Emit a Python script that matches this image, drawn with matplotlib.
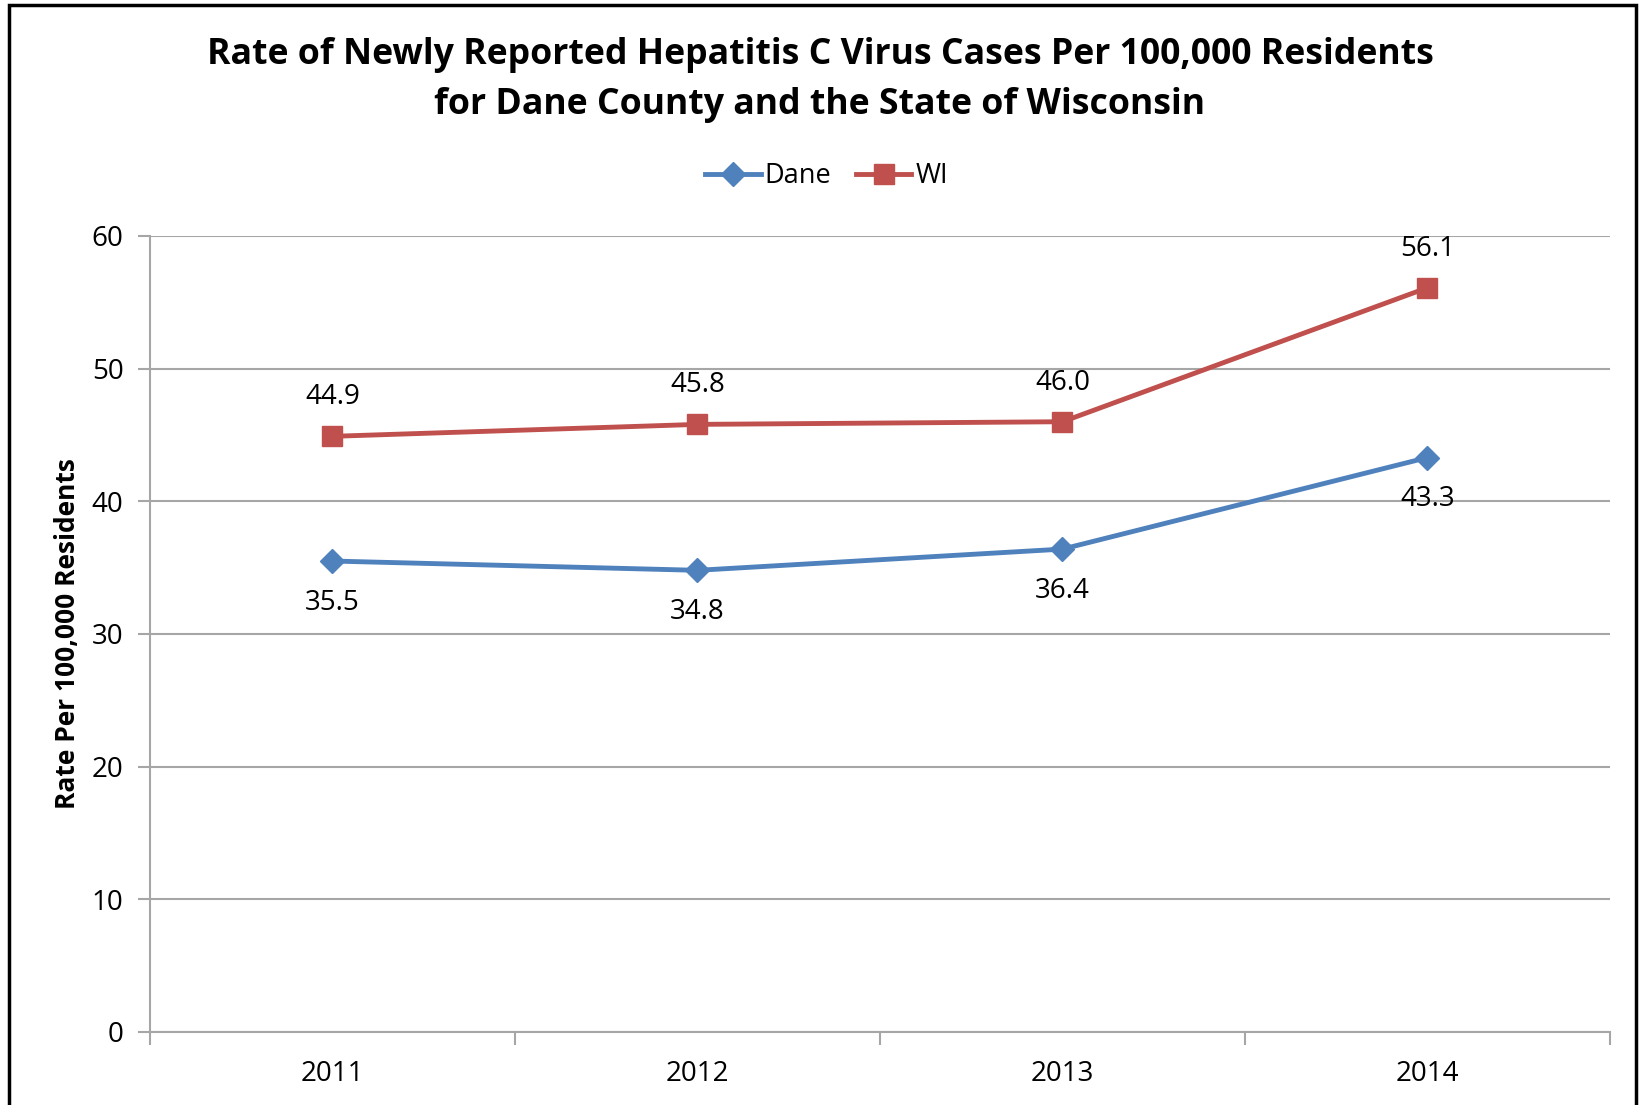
import matplotlib
matplotlib.use("Agg")
import matplotlib.pyplot as plt
import matplotlib.patches as mpatches
import numpy as np

plt.rcParams['font.family'] = ['Open Sans', 'DejaVu Sans']

years = ['2011', '2012', '2013', '2014']
dane = [35.5, 34.8, 36.4, 43.3]
wi = [44.9, 45.8, 46.0, 56.1]
yticks = [0, 10, 20, 30, 40, 50, 60]

blue = '#4F81BD'
red = '#C0504D'
grid_c = '#A6A6A6'

fig = plt.figure(figsize=(16.4, 11.05), dpi=100)
ax = fig.add_axes([150 / 1640, 1 - 1032 / 1105, 1460 / 1640, 796 / 1105])

x = np.arange(len(years))
ax.plot(x, dane, color=blue, lw=3.5, marker='D', ms=12, label='Dane', zorder=3)
ax.plot(x, wi, color=red, lw=3.5, marker='s', ms=14, label='WI', zorder=3)

for xi, v in zip(x, dane):
    ax.annotate('{:.1f}'.format(v), (xi, v), xytext=(0, -30), textcoords='offset points',
                ha='center', va='center', fontsize=20)
for xi, v in zip(x, wi):
    ax.annotate('{:.1f}'.format(v), (xi, v), xytext=(0, 28), textcoords='offset points',
                ha='center', va='center', fontsize=20)

ax.set_xlim(-0.5, 3.5)
ax.set_ylim(0, 60)
ax.set_yticks(yticks)
ax.set_yticklabels([str(t) for t in yticks], fontsize=20)
ax.set_xticks(x)
ax.set_xticklabels(years, fontsize=20)
ax.set_xticks(np.arange(-0.5, 3.6, 1), minor=True)
ax.tick_params(axis='x', which='major', length=0, pad=20)
ax.tick_params(axis='x', which='minor', length=9, color=grid_c, width=1.5)
ax.tick_params(axis='y', length=9, color=grid_c, width=1.5, pad=10)
ax.grid(axis='y', color=grid_c, lw=1.5)
ax.set_axisbelow(True)
for s in ['top', 'right']:
    ax.spines[s].set_visible(False)
for s in ['left', 'bottom']:
    ax.spines[s].set_color(grid_c)
    ax.spines[s].set_linewidth(1.5)

ax.set_ylabel('Rate Per 100,000 Residents', fontsize=19, fontweight='bold', labelpad=8)

fig.text(0.5, 1 - 80 / 1105, 'Rate of Newly Reported Hepatitis C Virus Cases Per 100,000 Residents\n'
         'for Dane County and the State of Wisconsin', ha='center', va='center',
         fontsize=25.7, fontweight='bold', linespacing=1.55)

leg = fig.legend(loc='center', bbox_to_anchor=(0.504, 1 - 176 / 1105), ncol=2, frameon=False,
                 fontsize=19.5, handlelength=2.05, columnspacing=0.9, handletextpad=0.15)

fig.patches.append(mpatches.Rectangle((8.5 / 1640, -0.05), (1636 - 8.5) / 1640, 1.05 - 5 / 1105,
                                      transform=fig.transFigure, fill=False, ec='black', lw=2.5))

fig.savefig('out.png', dpi=100)
